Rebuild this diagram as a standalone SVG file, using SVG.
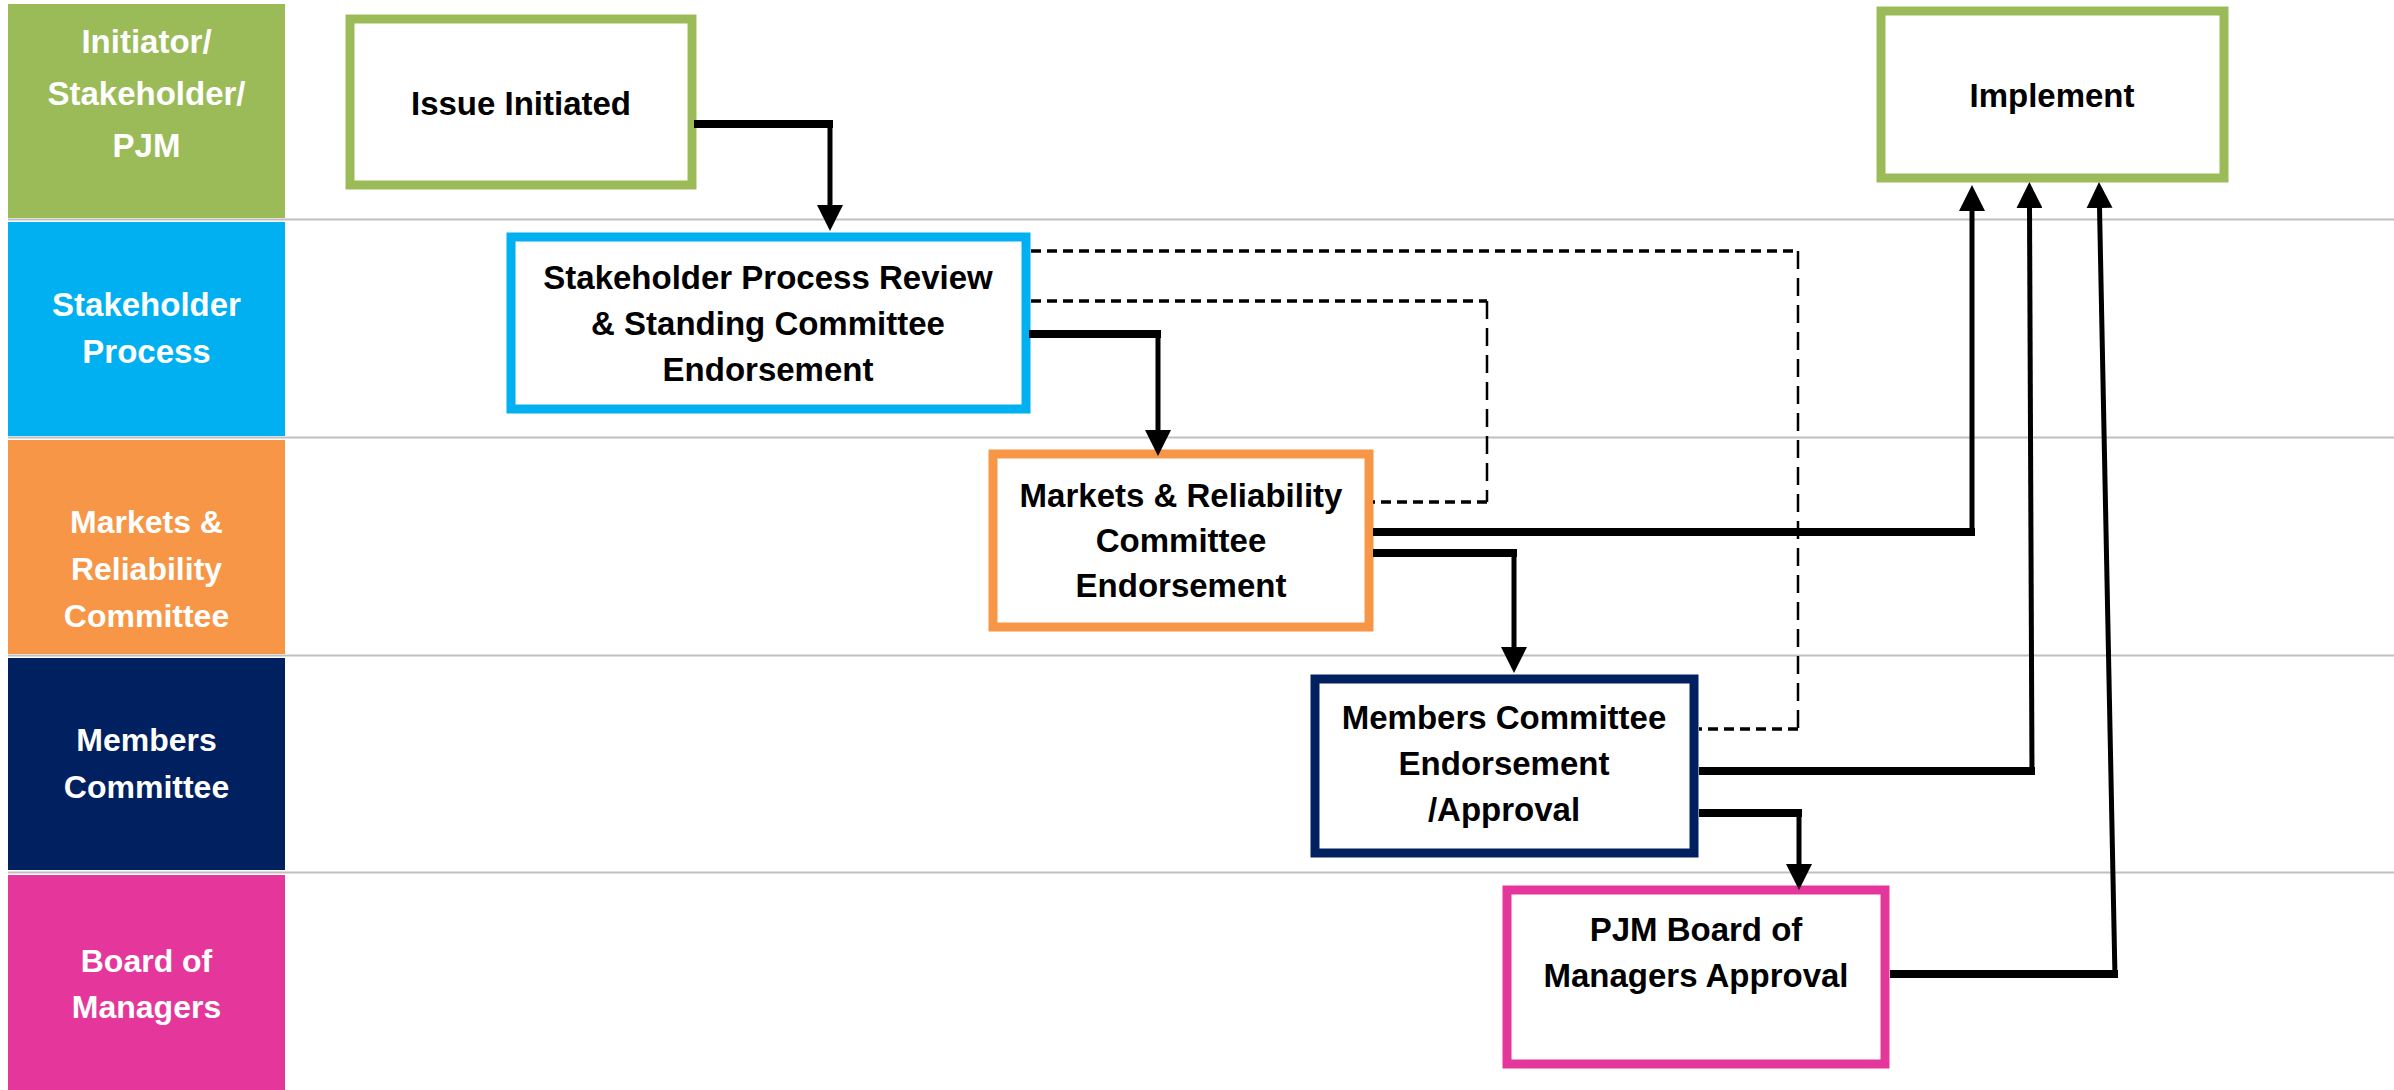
<svg xmlns="http://www.w3.org/2000/svg" width="2394" height="1090" viewBox="0 0 2394 1090">
<style>
.lane-txt{font-family:"Liberation Sans",Arial,sans-serif;font-weight:bold;fill:#fff;text-anchor:middle}
.node-txt{font-family:"Liberation Sans",Arial,sans-serif;font-weight:bold;font-size:33px;fill:#000;text-anchor:middle}
.node{fill:#fff;stroke-width:9}
.sep{stroke:#BFBFBF;stroke-width:2}
.h{fill:none;stroke:#000;stroke-width:8}
.v{fill:none;stroke:#000;stroke-width:5;marker-end:url(#ah)}
.dh{fill:none;stroke:#000;stroke-width:3.5;stroke-dasharray:10 6}
.dv{fill:none;stroke:#000;stroke-width:2.5;stroke-dasharray:18 9}
</style>
<defs>
<marker id="ah" markerUnits="userSpaceOnUse" viewBox="0 0 26 26" refX="1" refY="13" markerWidth="26" markerHeight="26" orient="auto">
<path d="M0,0 L26,13 L0,26 z" fill="#000"/>
</marker>
</defs>
<rect x="0" y="0" width="2394" height="1090" fill="#fff"/>
<g id="separators">
<line class="sep" x1="8" y1="219.5" x2="2394" y2="219.5"/>
<line class="sep" x1="8" y1="437.5" x2="2394" y2="437.5"/>
<line class="sep" x1="8" y1="655.5" x2="2394" y2="655.5"/>
<line class="sep" x1="8" y1="872.5" x2="2394" y2="872.5"/>
</g>
<g id="lane-initiator">
<rect x="8" y="4" width="277" height="214" fill="#9BBB59"/>
<text class="lane-txt" font-size="33" x="146.5" y="53">Initiator/</text>
<text class="lane-txt" font-size="33" x="146.5" y="105">Stakeholder/</text>
<text class="lane-txt" font-size="33" x="146.5" y="157">PJM</text>
</g>
<g id="lane-stakeholder">
<rect x="8" y="222" width="277" height="214" fill="#00B0F0"/>
<text class="lane-txt" font-size="33" x="146.5" y="316">Stakeholder</text>
<text class="lane-txt" font-size="33" x="146.5" y="363">Process</text>
</g>
<g id="lane-mrc">
<rect x="8" y="440" width="277" height="214" fill="#F79646"/>
<text class="lane-txt" font-size="32" x="146.5" y="533">Markets &amp;</text>
<text class="lane-txt" font-size="32" x="146.5" y="580">Reliability</text>
<text class="lane-txt" font-size="32" x="146.5" y="627">Committee</text>
</g>
<g id="lane-mc">
<rect x="8" y="658" width="277" height="212" fill="#002060"/>
<text class="lane-txt" font-size="32" x="146.5" y="751">Members</text>
<text class="lane-txt" font-size="32" x="146.5" y="798">Committee</text>
</g>
<g id="lane-board">
<rect x="8" y="875" width="277" height="215" fill="#E5379B"/>
<text class="lane-txt" font-size="32" x="146.5" y="972">Board of</text>
<text class="lane-txt" font-size="32" x="146.5" y="1018">Managers</text>
</g>
<g id="node-issue">
<rect class="node" x="350" y="19" width="342" height="166" stroke="#9BBB59"/>
<text class="node-txt" x="521" y="115">Issue Initiated</text>
</g>
<g id="node-spr">
<rect class="node" x="511" y="237" width="515" height="172" stroke="#00B0F0"/>
<text class="node-txt" x="768" y="289">Stakeholder Process Review</text>
<text class="node-txt" x="768" y="335">&amp; Standing Committee</text>
<text class="node-txt" x="768" y="381">Endorsement</text>
</g>
<g id="node-mrc">
<rect class="node" x="993" y="454" width="376" height="173" stroke="#F79646"/>
<text class="node-txt" x="1181" y="507">Markets &amp; Reliability</text>
<text class="node-txt" x="1181" y="552">Committee</text>
<text class="node-txt" x="1181" y="597">Endorsement</text>
</g>
<g id="node-mc">
<rect class="node" x="1315" y="679" width="379" height="174" stroke="#002060"/>
<text class="node-txt" x="1504" y="729">Members Committee</text>
<text class="node-txt" x="1504" y="775">Endorsement</text>
<text class="node-txt" x="1504" y="821">/Approval</text>
</g>
<g id="node-board">
<rect class="node" x="1507" y="890" width="378" height="174" stroke="#E5379B"/>
<text class="node-txt" x="1696" y="941">PJM Board of</text>
<text class="node-txt" x="1696" y="987">Managers Approval</text>
</g>
<g id="node-implement">
<rect class="node" x="1881" y="11" width="343" height="167" stroke="#9BBB59"/>
<text class="node-txt" x="2052" y="107">Implement</text>
</g>
<g id="connectors">
<path class="dh" d="M1031,251 H1798"/>
<path class="dv" d="M1798,251 V729"/>
<path class="dh" d="M1798,729 H1699"/>
<path class="dh" d="M1031,301 H1487"/>
<path class="dv" d="M1487,301 V502"/>
<path class="dh" d="M1487,502 H1373"/>
<path class="h" d="M694,124 H833"/>
<path class="v" d="M830,121 V206"/>
<path class="h" d="M1029,334 H1161"/>
<path class="v" d="M1158,331 V431"/>
<path class="h" d="M1373,532 H1975"/>
<path class="v" d="M1972,535 V210"/>
<path class="h" d="M1373,553 H1517"/>
<path class="v" d="M1514,550 V648"/>
<path class="h" d="M1699,771 H2035"/>
<path class="v" d="M2032,774 L2029.5,207"/>
<path class="h" d="M1699,813 H1802"/>
<path class="v" d="M1799,810 V865"/>
<path class="h" d="M1890,974 H2118"/>
<path class="v" d="M2115,977 L2099.5,207"/>
</g>
</svg>
